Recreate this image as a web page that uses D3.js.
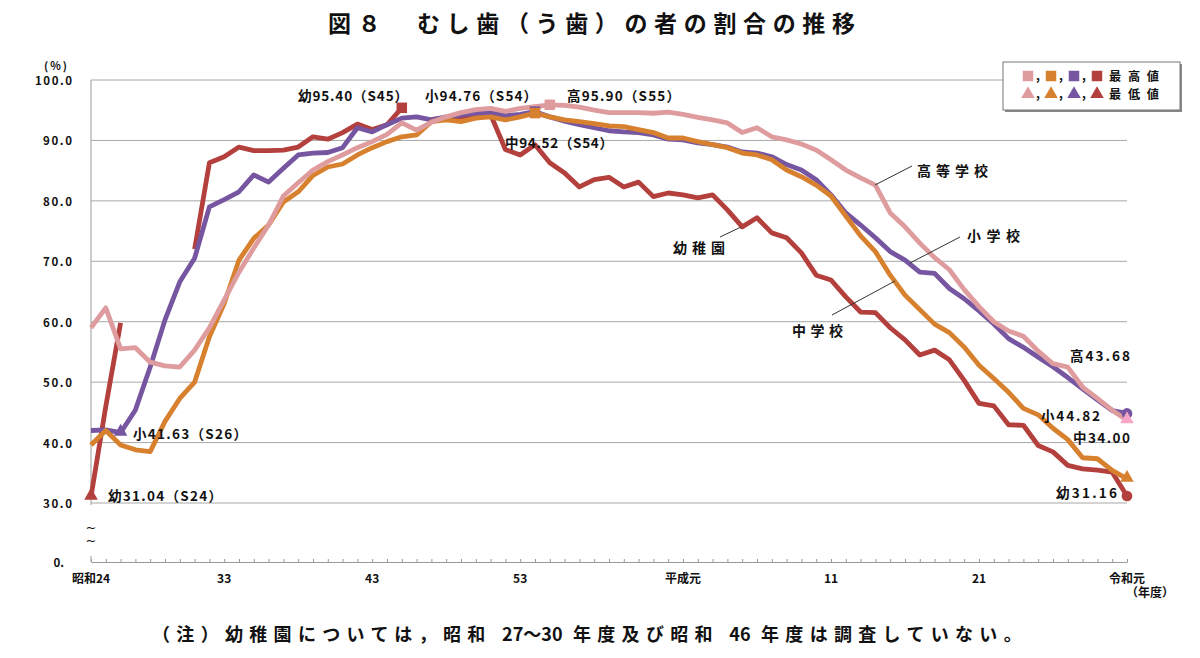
<!DOCTYPE html>
<html lang="ja">
<head>
<meta charset="utf-8">
<script src="https://cdn.jsdelivr.net/npm/d3@7"></script>
<style>
  body { margin: 0; background: #fff; }
  svg text { font-family: "Noto Sans CJK JP", "Noto Sans", sans-serif; font-weight: bold; fill: #111; }
</style>
</head>
<body>
<div id="chart"></div>
<script>
// years 1949 (S24) .. 2019 (R1)
const years = d3.range(1949, 2020);

// 幼稚園 (no survey S27-30, S46)
const kinder = [31.04, 46.0, 59.8, null, null, null, null, 72.0, 86.3, 87.3,
  88.9, 88.3, 88.3, 88.4, 88.9, 90.6, 90.2, 91.3, 92.7, 91.8,
  92.6, 95.40, null, 93.5, 93.7, 93.9, 94.1, 94.3, 88.5, 87.6,
  89.3, 86.3, 84.6, 82.3, 83.5, 83.9, 82.3, 83.1, 80.7, 81.3,
  81.0, 80.5, 81.0, 78.5, 75.7, 77.2, 74.7, 73.9, 71.4, 67.7,
  66.9, 64.1, 61.6, 61.5, 59.0, 57.0, 54.5, 55.3, 53.7, 50.3,
  46.49, 46.07, 42.95, 42.86, 39.51, 38.46, 36.23, 35.64, 35.45, 35.10, 31.16];

// 小学校
const elem = [42.0, 42.1, 41.63, 45.4, 52.5, 60.3, 66.6, 70.5, 79.0, 80.2,
  81.5, 84.3, 83.1, 85.4, 87.6, 87.9, 88.0, 88.8, 92.1, 91.4,
  92.6, 93.7, 93.9, 93.4, 93.9, 94.2, 94.5, 94.6, 94.1, 94.3,
  94.76, 93.9, 93.2, 92.6, 92.1, 91.6, 91.4, 91.3, 90.9, 90.2,
  90.1, 89.6, 89.3, 88.9, 88.1, 87.9, 87.3, 86.0, 85.1, 83.5,
  81.0, 78.0, 76.0, 73.9, 71.6, 70.2, 68.2, 68.0, 65.5, 63.8,
  61.79, 59.63, 57.20, 55.76, 54.14, 52.54, 50.76, 48.89, 47.06, 45.30, 44.82];

// 中学校
const mid = [39.6, 42.0, 39.6, 38.8, 38.5, 43.5, 47.3, 50.0, 57.5, 63.0,
  70.2, 73.8, 76.0, 79.8, 81.5, 84.2, 85.6, 86.1, 87.6, 88.8,
  89.8, 90.6, 90.9, 93.1, 93.4, 93.1, 93.7, 93.9, 93.4, 93.9,
  94.52, 93.9, 93.4, 93.1, 92.8, 92.4, 92.3, 91.8, 91.3, 90.4,
  90.4, 89.8, 89.3, 88.8, 87.9, 87.6, 86.8, 85.1, 84.0, 82.6,
  80.8, 77.5, 74.2, 71.6, 67.7, 64.4, 62.0, 59.6, 58.2, 55.8,
  52.8, 50.60, 48.31, 45.66, 44.59, 42.37, 40.49, 37.49, 37.32, 35.41, 34.00];

// 高等学校
const high = [59.0, 62.3, 55.5, 55.7, 53.3, 52.7, 52.5, 55.3, 59.0, 63.6,
  68.2, 72.2, 76.0, 80.8, 83.0, 85.1, 86.5, 87.6, 88.8, 89.8,
  91.0, 92.9, 91.7, 93.0, 93.9, 94.6, 95.1, 95.3, 94.8, 95.3,
  95.6, 95.90, 95.8, 95.5, 95.0, 94.6, 94.6, 94.6, 94.5, 94.7,
  94.3, 93.8, 93.4, 92.9, 91.3, 92.1, 90.6, 90.1, 89.4, 88.4,
  86.8, 85.1, 83.8, 82.6, 78.0, 75.7, 73.0, 70.6, 68.6, 65.3,
  62.5, 60.00, 58.46, 57.60, 55.12, 53.05, 52.49, 49.19, 47.30, 45.36, 43.68];

const yTicks = [30, 40, 50, 60, 70, 80, 90, 100];
const tickYears = [1949, 1958, 1968, 1978, 1989, 1999, 2009, 2019];
const tickLabels = ['昭和24', '33', '43', '53', '平成元', '11', '21', '令和元'];

const svg = d3.select('#chart')
  .append('svg')
  .attr('width', 1200)
  .attr('height', 658);

const x = d3.scaleLinear().domain([1949, 2019]).range([91, 1127]);
const y = d3.scaleLinear().domain([30, 100]).range([503, 80]);
const zeroY = 562;

// title
svg.append('text')
  .attr('x', 328).attr('y', 22)
  .attr('dominant-baseline', 'central')
  .attr('textLength', 527).attr('lengthAdjust', 'spacing')
  .style('font-size', '23px')
  .text('図８　むし歯（う歯）の者の割合の推移');

// gridlines
svg.selectAll('.grid')
  .data(yTicks)
  .enter()
  .append('line')
  .attr('x1', x(1949)).attr('x2', x(2019))
  .attr('y1', d => y(d)).attr('y2', d => y(d))
  .style('stroke', '#a8a8a8').style('stroke-width', 1);

// y labels
svg.selectAll('.ylab')
  .data(yTicks)
  .enter()
  .append('text')
  .attr('x', 72).attr('y', d => y(d))
  .attr('text-anchor', 'end').attr('dominant-baseline', 'central')
  .attr('textLength', d => d === 100 ? 37 : 29).attr('lengthAdjust', 'spacing')
  .style('font-size', '11.5px')
  .text(d => d + '.0');
svg.append('text')
  .attr('x', 64).attr('y', zeroY)
  .attr('text-anchor', 'end').attr('dominant-baseline', 'central')
  .style('font-size', '11.5px')
  .text('0.');
svg.append('text')
  .attr('x', 44).attr('y', 65)
  .attr('dominant-baseline', 'central')
  .style('font-size', '11px')
  .style('letter-spacing', '2px')
  .text('(%)');

// y axis with break
svg.append('line')
  .attr('x1', x(1949)).attr('x2', x(1949))
  .attr('y1', y(100)).attr('y2', y(30) + 2)
  .style('stroke', '#999');
svg.append('line')
  .attr('x1', x(1949)).attr('x2', x(1949))
  .attr('y1', zeroY - 6).attr('y2', zeroY)
  .style('stroke', '#999');
[527, 540].forEach(ty => {
  svg.append('text')
    .attr('x', x(1949)).attr('y', ty)
    .attr('text-anchor', 'middle').attr('dominant-baseline', 'central')
    .style('font-family', 'DejaVu Sans').style('font-weight', 'normal')
    .style('font-size', '13px')
    .text('~');
});

// x axis
const xAxis = svg.append('g')
  .attr('transform', `translate(0,${zeroY})`)
  .call(d3.axisBottom(x).tickValues(years).tickSizeInner(-3).tickSizeOuter(0).tickFormat(''));
xAxis.select('.domain').style('stroke', '#999');
xAxis.selectAll('.tick line').style('stroke', '#999');

svg.selectAll('.xlab')
  .data(tickYears)
  .enter()
  .append('text')
  .attr('x', d => x(d)).attr('y', 577)
  .attr('text-anchor', 'middle').attr('dominant-baseline', 'central')
  .style('font-size', '12px')
  .text((d, i) => tickLabels[i]);
svg.append('text')
  .attr('x', 1150).attr('y', 591)
  .attr('text-anchor', 'middle').attr('dominant-baseline', 'central')
  .style('font-size', '12px')
  .text('（年度）');

// series
const series = [
  { key: '幼', name: '幼稚園', values: kinder, color: '#b3403d' },
  { key: '小', name: '小学校', values: elem, color: '#7656a0' },
  { key: '中', name: '中学校', values: mid, color: '#d7812f' },
  { key: '高', name: '高等学校', values: high, color: '#df9c9e' }
];

const line = d3.line()
  .defined(d => d.v != null)
  .x(d => x(d.year))
  .y(d => y(d.v));

series.forEach(s => {
  s.points = years.map((yr, i) => ({ year: yr, v: s.values[i] }));
  svg.append('path')
    .datum(s.points)
    .attr('d', line)
    .style('fill', 'none')
    .style('stroke', s.color)
    .style('stroke-width', 4.8)
    .style('stroke-linejoin', 'round');
});

// max / min markers
const square = d3.symbol().type(d3.symbolSquare).size(110);
const tri = d3.symbol().type(d3.symbolTriangle).size(80);
const circ = d3.symbol().type(d3.symbolCircle).size(90);
const fmt = d3.format('.2f');

series.forEach(s => {
  const valid = s.points.filter(p => p.v != null);
  s.max = valid[d3.maxIndex(valid, p => p.v)];
  s.min = valid[d3.minIndex(valid, p => p.v)];
  s.last = s.points[s.points.length - 1];
  svg.append('path')
    .attr('d', square)
    .attr('transform', `translate(${x(s.max.year)},${y(s.max.v)})`)
    .style('fill', s.color);
  svg.append('path')
    .attr('d', tri)
    .attr('transform', `translate(${x(s.min.year)},${y(s.min.v) - 1})`)
    .style('fill', s.key === '高' ? '#f7a6c8' : s.color);
  if (s.min.year !== 2019) {
    svg.append('path')
      .attr('d', circ)
      .attr('transform', `translate(${x(s.last.year)},${y(s.last.v)})`)
      .style('fill', s.color);
  }
});

const bySeries = k => series.find(s => s.key === k);
const showa = yr => 'S' + (yr - 1925);

const notes = [
  { t: `幼${fmt(bySeries('幼').max.v)}（${showa(bySeries('幼').max.year)}）`, x: 298, y: 95, w: 110 },
  { t: `小${fmt(bySeries('小').max.v)}（${showa(bySeries('小').max.year)}）`, x: 425, y: 95, w: 112 },
  { t: `高${fmt(bySeries('高').max.v)}（${showa(bySeries('高').max.year)}）`, x: 567, y: 95, w: 113 },
  { t: `中${fmt(bySeries('中').max.v)}（${showa(bySeries('中').max.year)}）`, x: 505, y: 142, w: 108 },
  { t: `小${fmt(bySeries('小').min.v)}（${showa(bySeries('小').min.year)}）`, x: 133, y: 433, w: 114 },
  { t: `幼${fmt(bySeries('幼').min.v)}（${showa(bySeries('幼').min.year)}）`, x: 108, y: 495, w: 114 },
  { t: `高${fmt(bySeries('高').last.v)}`, x: 1070, y: 355, w: 60 },
  { t: `小${fmt(bySeries('小').last.v)}`, x: 1041, y: 415, w: 59 },
  { t: `中${fmt(bySeries('中').last.v)}`, x: 1073, y: 437, w: 57 },
  { t: `幼${fmt(bySeries('幼').last.v)}`, x: 1056, y: 492, w: 61 }
];

svg.append('g').selectAll('text')
  .data(notes)
  .enter()
  .append('text')
  .attr('x', d => d.x).attr('y', d => d.y)
  .attr('dominant-baseline', 'central')
  .attr('textLength', d => d.w).attr('lengthAdjust', 'spacing')
  .style('font-size', '13.5px')
  .text(d => d.t);

// series names with leader lines
const names = [
  { t: '高等学校', x: 917, y: 170, w: 71, lx1: 875, ly1: 185, lx2: 912, ly2: 166 },
  { t: '小学校', x: 967, y: 235, w: 53, lx1: 910, ly1: 263, lx2: 960, ly2: 237 },
  { t: '中学校', x: 792, y: 330, w: 51, lx1: 895, ly1: 281, lx2: 832, ly2: 315 },
  { t: '幼稚園', x: 673, y: 247, w: 52, lx1: 741, ly1: 227, lx2: 720, ly2: 237 }
];

svg.selectAll('.leader')
  .data(names)
  .enter()
  .append('line')
  .attr('x1', d => d.lx1).attr('y1', d => d.ly1)
  .attr('x2', d => d.lx2).attr('y2', d => d.ly2)
  .style('stroke', '#333').style('stroke-width', 1);

svg.selectAll('.sname')
  .data(names)
  .enter()
  .append('text')
  .attr('x', d => d.x).attr('y', d => d.y)
  .attr('dominant-baseline', 'central')
  .attr('textLength', d => d.w).attr('lengthAdjust', 'spacing')
  .style('font-size', '14px')
  .text(d => d.t);

// legend
const rowY = [14, 32];
const legend = svg.append('g').attr('transform', 'translate(1003,62)');
legend.append('rect')
  .attr('x', 2).attr('y', 2).attr('width', 177).attr('height', 48)
  .style('fill', '#888');
legend.append('rect')
  .attr('width', 177).attr('height', 48)
  .style('fill', '#fff').style('stroke', '#777');

const legendItems = legend.selectAll('.legend-item')
  .data(series.slice().reverse())
  .enter()
  .append('g')
  .attr('transform', (d, i) => `translate(${25 + i * 23}, 0)`);

legendItems.append('path')
  .attr('d', square)
  .attr('transform', `translate(0,${rowY[0]})`)
  .style('fill', d => d.color);
legendItems.append('path')
  .attr('d', tri)
  .attr('transform', `translate(0,${rowY[1]})`)
  .style('fill', d => d.color);
rowY.forEach(ry => {
  legendItems.filter((d, i) => i < 3).append('text')
    .attr('x', 8).attr('y', ry + 4)
    .style('font-size', '12px').text(',');
});

['最高値', '最低値'].forEach((t, i) => {
  legend.append('text')
    .attr('x', 106).attr('y', rowY[i])
    .attr('dominant-baseline', 'central')
    .attr('textLength', 50).attr('lengthAdjust', 'spacing')
    .style('font-size', '12.2px')
    .text(t);
});

// footnote: wide spacing on kana/kanji, tight digits
const footParts = ['（注）幼稚園については，昭和 ', '27～30', ' 年度及び昭和 ', '46', ' 年度は調査していない。'];
const foot = svg.append('text')
  .attr('x', 152).attr('y', 633)
  .attr('dominant-baseline', 'central')
  .style('font-size', '18px');
const spans = foot.selectAll('tspan')
  .data(footParts)
  .enter()
  .append('tspan')
  .text(d => d);
const baseLen = foot.node().getComputedTextLength();
const wideChars = d3.sum(footParts.filter((d, i) => i % 2 === 0), d => d.length);
const gap = (876 - baseLen) / wideChars;
spans.style('letter-spacing', (d, i) => i % 2 === 0 ? gap + 'px' : '0px');
</script>
</body>
</html>
